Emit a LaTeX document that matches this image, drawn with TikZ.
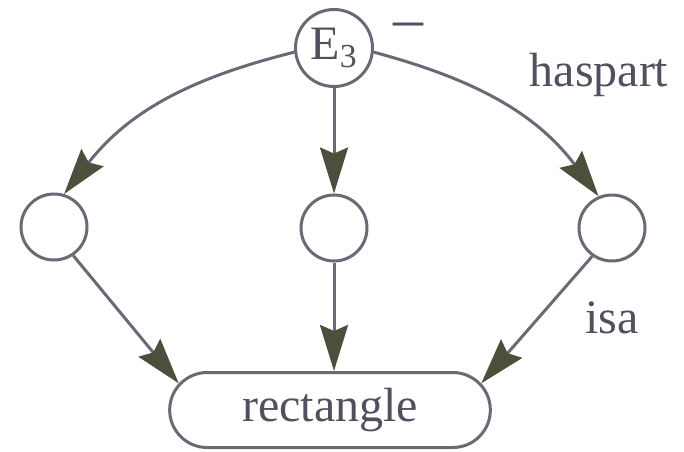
\documentclass[tikz,border=0pt]{standalone}
\usepackage{fontspec}
\setmainfont{Liberation Serif}
\usetikzlibrary{arrows.meta,shapes.misc}
\definecolor{linegray}{HTML}{6A6A76}
\definecolor{tipolive}{HTML}{4E4E3C}
\definecolor{textgray}{HTML}{50505E}

\begin{document}
\begin{tikzpicture}[
        x=0.5pt, y=-0.5pt,
        >={Stealth[length=23pt,width=14pt,inset=3pt,color=tipolive]},
        every node/.style={text=textgray, font=\fontsize{24}{27}\selectfont},
        slot/.style={
            draw=linegray,
            line width=1.5pt,
            circle,
            fill=white,
            inner sep=0pt,
            minimum size=33pt
        },
        frame/.style={slot, minimum size=38.5pt},
        concept/.style={
            draw=linegray,
            line width=1.5pt,
            rounded rectangle,
            minimum width=167pt,
            minimum height=37.5pt
        },
        link/.style={->, draw=linegray, line width=1.5pt}
    ]
        \useasboundingbox (0,0) rectangle (684,451);

        \node[frame] (e3) at (334,48) {E\textsubscript{3}};
        \node[slot] (left) at (54,227) {};
        \node[slot] (mid) at (334,228) {};
        \node[slot] (right) at (612,228) {};
        \node[concept] (rect) at (330,410) {rectangle};

        \node[anchor=base, inner sep=0pt, text height=9pt, text depth=0pt,
            font=\fontsize{30}{30}\selectfont] (neg) at (408,38) {–};
        \node (haspart) at (599,75) {haspart};
        \node (isa) at (612,318) {isa};

        \draw[link] (e3.186) to[out=194,in=52] (left.73);
        \draw[link] (e3.south) -- (mid.north);
        \draw[link] (e3.-6) to[out=-15,in=127] (right.113);

        \draw[link] (left.-56) -- (rect.170);
        \draw[link] (mid.south) -- (mid.south |- rect.north);
        \draw[link] (right.-125) -- (rect.10);
    \end{tikzpicture}
\end{document}
